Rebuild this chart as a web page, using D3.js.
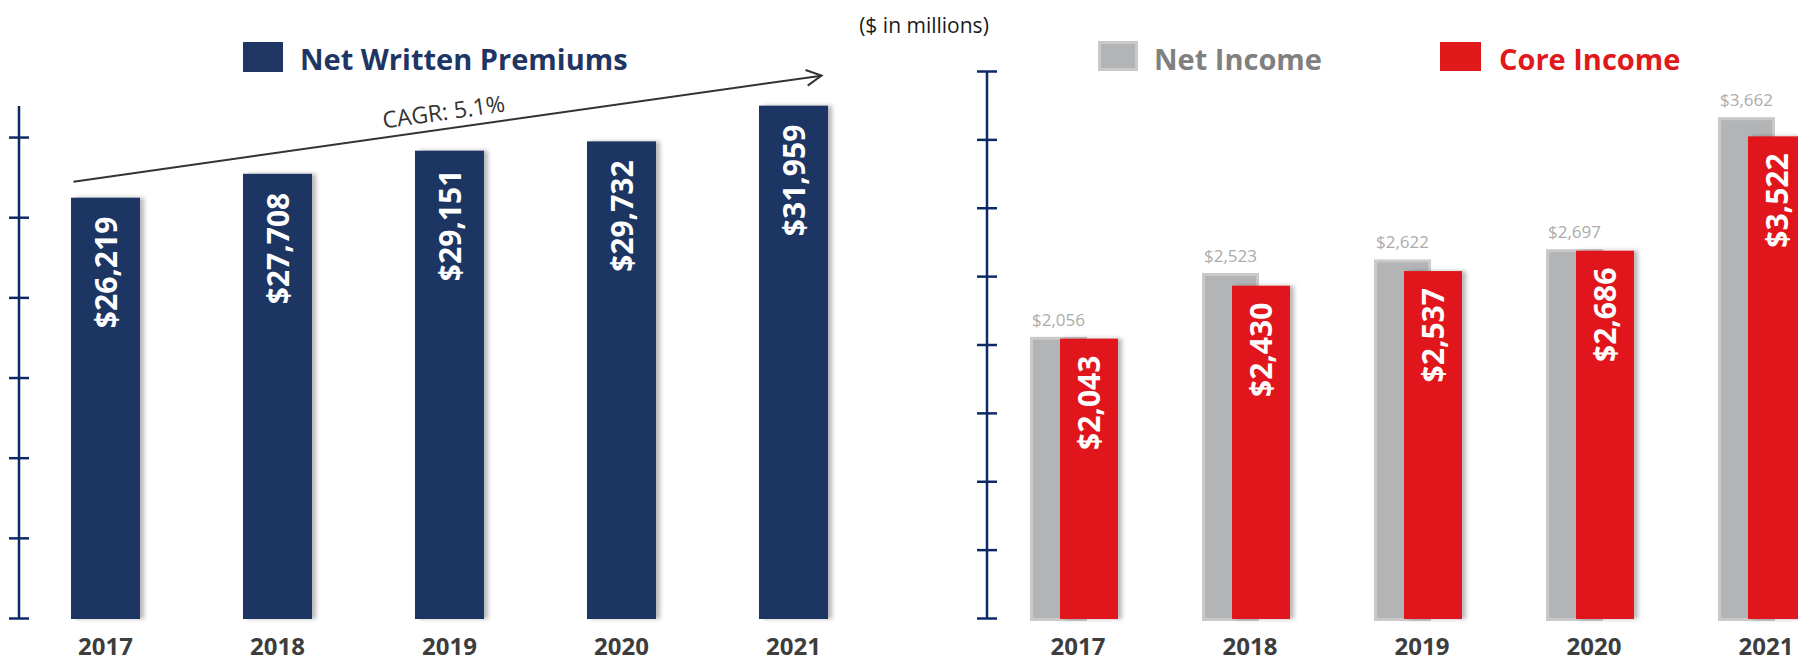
<!DOCTYPE html>
<html>
<head>
<meta charset="utf-8">
<script src="https://cdn.jsdelivr.net/npm/d3@7/dist/d3.min.js"></script>
<style>
  html, body { margin: 0; padding: 0; background: #ffffff; }
  svg { display: block; font-family: "Open Sans", "DejaVu Sans", sans-serif; }
</style>
</head>
<body>
<svg id="chart" width="1798" height="663"></svg>
<script>
// Reporting years shared by both panels
const years = ["2017", "2018", "2019", "2020", "2021"];

// Net written premiums ($ millions)
const netWrittenPremiums = [26219, 27708, 29151, 29732, 31959];

// Net income and core income ($ millions)
const netIncome = [2056, 2523, 2622, 2697, 3662];
const coreIncome = [2043, 2430, 2537, 2686, 3522];

// Axis tick values (axes carry tick marks only, no labels)
const premiumTicks = [0, 5000, 10000, 15000, 20000, 25000, 30000];
const incomeTicks = [0, 500, 1000, 1500, 2000, 2500, 3000, 3500, 4000];

const cagrLabel = "CAGR: 5.1%";
const unitsNote = "($ in millions)";

const NAVY = "#1f3664";
const AXIS = "#0d2a68";
const GREY = "#b3b4b6";
const GREY_EDGE = "#c9c9c9";
const RED = "#e0191b";
const YEAR_TEXT = "#3d3d3d";

const fmt = d3.format("$,");
const svg = d3.select("#chart");

// Soft shadow falling to the right of each bar
const defs = svg.append("defs");
const sh = defs.append("filter").attr("id", "barShadow")
  .attr("x", "-10%").attr("y", "-5%").attr("width", "130%").attr("height", "110%");
sh.append("feDropShadow").attr("dx", 4).attr("dy", 0).attr("stdDeviation", 2)
  .attr("flood-color", "#000").attr("flood-opacity", 0.28);

// ---------------- Left panel: Net Written Premiums ----------------
const xL = d3.scalePoint().domain(years).range([105.5, 793.5]);
const yL = d3.scaleLinear().domain([0, 32000]).range([618, 105]);
const barWL = 69;

function crossTicks(g, half) {
  g.select(".domain").remove();
  g.selectAll(".tick line").attr("x1", -half).attr("x2", half)
    .attr("stroke", AXIS).attr("stroke-width", 2.5);
}

const axL = svg.append("g").attr("transform", "translate(19,0)");
axL.append("line").attr("x1", 0).attr("x2", 0)
  .attr("y1", yL(32000) + 1).attr("y2", yL(0))
  .attr("stroke", AXIS).attr("stroke-width", 2.5);
axL.append("g")
  .call(d3.axisLeft(yL).tickValues(premiumTicks).tickSize(0).tickFormat(""))
  .call(g => crossTicks(g, 10));

const left = svg.append("g");
left.selectAll("rect.nwp").data(netWrittenPremiums).join("rect")
  .attr("class", "nwp")
  .attr("x", (d, i) => xL(years[i]) - barWL / 2)
  .attr("y", d => yL(d))
  .attr("width", barWL)
  .attr("height", d => yL(0) + 1 - yL(d))
  .attr("fill", NAVY)
  .attr("filter", "url(#barShadow)");

left.selectAll("text.nwpLabel").data(netWrittenPremiums).join("text")
  .attr("class", "nwpLabel")
  .attr("transform", (d, i) => `translate(${xL(years[i]) + 11},${yL(d) + 19}) rotate(-90)`)
  .attr("text-anchor", "end")
  .attr("fill", "#ffffff")
  .attr("font-size", 30)
  .attr("font-weight", 700)
  .text(d => fmt(d));

left.selectAll("text.yearL").data(years).join("text")
  .attr("class", "yearL")
  .attr("x", d => xL(d)).attr("y", 655)
  .attr("text-anchor", "middle")
  .attr("fill", YEAR_TEXT).attr("font-size", 24).attr("font-weight", 700)
  .text(d => d);

// Legend
svg.append("rect").attr("x", 243).attr("y", 42).attr("width", 40).attr("height", 30).attr("fill", NAVY);
svg.append("text").attr("x", 300).attr("y", 70)
  .attr("fill", NAVY).attr("font-size", 29).attr("font-weight", 700)
  .text("Net Written Premiums");

// Growth arrow with CAGR annotation
const p0 = [xL(years[0]) - 32, yL(netWrittenPremiums[0]) - 16];
const p1 = [xL(years[years.length - 1]) + 28, yL(netWrittenPremiums[netWrittenPremiums.length - 1]) - 30];
const ang = Math.atan2(p1[1] - p0[1], p1[0] - p0[0]);
svg.append("line")
  .attr("x1", p0[0]).attr("y1", p0[1]).attr("x2", p1[0]).attr("y2", p1[1])
  .attr("stroke", "#333333").attr("stroke-width", 2);
const headLen = 17, headSpread = Math.PI / 6.5;
const headPts = [
  [p1[0] - headLen * Math.cos(ang - headSpread), p1[1] - headLen * Math.sin(ang - headSpread)],
  p1,
  [p1[0] - headLen * Math.cos(ang + headSpread), p1[1] - headLen * Math.sin(ang + headSpread)]
];
svg.append("path").attr("d", d3.line()(headPts))
  .attr("fill", "none").attr("stroke", "#333333").attr("stroke-width", 2)
  .attr("stroke-linejoin", "miter");
const tMid = 446;
const tFrac = (tMid - p0[0]) / (p1[0] - p0[0]);
const tY = p0[1] + tFrac * (p1[1] - p0[1]);
svg.append("text")
  .attr("transform", `translate(${tMid},${tY}) rotate(${ang * 180 / Math.PI}) translate(0,-9)`)
  .attr("text-anchor", "middle")
  .attr("fill", "#333333").attr("font-size", 23)
  .text(cagrLabel);

// Units note
svg.append("text").attr("x", 924).attr("y", 33).attr("text-anchor", "middle")
  .attr("fill", "#1a1a1a").attr("font-size", 21)
  .text(unitsNote);

// ---------------- Right panel: Net Income vs Core Income ----------------
const xR = d3.scalePoint().domain(years).range([1074, 1762]);
const yR = d3.scaleLinear().domain([0, 4000]).range([618, 71]);
const greyOff = -44, greyW = 57, redOff = -14, redW = 58;

const axR = svg.append("g").attr("transform", "translate(987,0)");
axR.append("line").attr("x1", 0).attr("x2", 0)
  .attr("y1", yR(4000)).attr("y2", yR(0))
  .attr("stroke", AXIS).attr("stroke-width", 2.5);
axR.append("g")
  .call(d3.axisLeft(yR).tickValues(incomeTicks).tickSize(0).tickFormat(""))
  .call(g => crossTicks(g, 10));

const right = svg.append("g");
// Net income bars (grey, behind)
right.selectAll("rect.ni").data(netIncome).join("rect")
  .attr("class", "ni")
  .attr("x", (d, i) => xR(years[i]) + greyOff + 1.5)
  .attr("y", d => yR(d) + 1.5)
  .attr("width", greyW - 3)
  .attr("height", d => yR(0) - yR(d))
  .attr("fill", GREY).attr("stroke", GREY_EDGE).attr("stroke-width", 3);

right.selectAll("text.niLabel").data(netIncome).join("text")
  .attr("class", "niLabel")
  .attr("x", (d, i) => xR(years[i]) + greyOff + greyW / 2)
  .attr("y", d => yR(d) - 11)
  .attr("text-anchor", "middle")
  .attr("fill", "#ababab").attr("font-size", 17)
  .text(d => fmt(d));

// Core income bars (red, in front)
right.selectAll("rect.ci").data(coreIncome).join("rect")
  .attr("class", "ci")
  .attr("x", (d, i) => xR(years[i]) + redOff)
  .attr("y", d => yR(d))
  .attr("width", redW)
  .attr("height", d => yR(0) + 1 - yR(d))
  .attr("fill", RED)
  .attr("filter", "url(#barShadow)");

right.selectAll("text.ciLabel").data(coreIncome).join("text")
  .attr("class", "ciLabel")
  .attr("transform", (d, i) => `translate(${xR(years[i]) + redOff + redW / 2 + 11},${yR(d) + 17}) rotate(-90)`)
  .attr("text-anchor", "end")
  .attr("fill", "#ffffff")
  .attr("font-size", 30)
  .attr("font-weight", 700)
  .text(d => fmt(d));

right.selectAll("text.yearR").data(years).join("text")
  .attr("class", "yearR")
  .attr("x", d => xR(d) + 4).attr("y", 655)
  .attr("text-anchor", "middle")
  .attr("fill", YEAR_TEXT).attr("font-size", 24).attr("font-weight", 700)
  .text(d => d);

// Legend
svg.append("rect").attr("x", 1099.5).attr("y", 42.5).attr("width", 37).attr("height", 27)
  .attr("fill", GREY).attr("stroke", GREY_EDGE).attr("stroke-width", 3);
svg.append("text").attr("x", 1154).attr("y", 70)
  .attr("fill", "#808080").attr("font-size", 29).attr("font-weight", 700)
  .text("Net Income");
svg.append("rect").attr("x", 1440).attr("y", 42).attr("width", 41).attr("height", 29).attr("fill", RED);
svg.append("text").attr("x", 1499).attr("y", 70)
  .attr("fill", RED).attr("font-size", 29).attr("font-weight", 700)
  .text("Core Income");
</script>
</body>
</html>
